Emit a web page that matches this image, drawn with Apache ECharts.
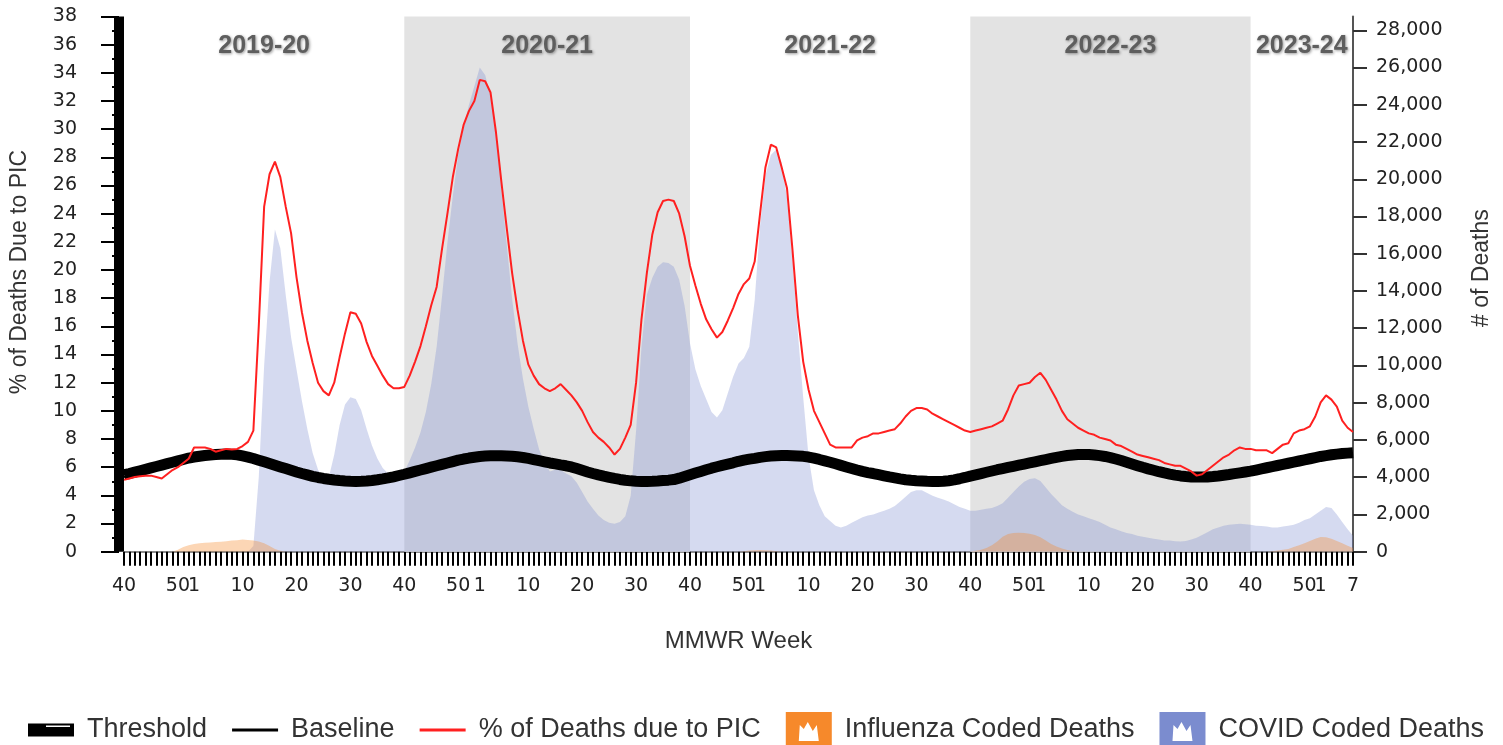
<!DOCTYPE html>
<html><head><meta charset="utf-8">
<script src="https://cdn.jsdelivr.net/npm/echarts@6/dist/echarts.min.js"></script>
<style>html,body{margin:0;padding:0;background:#fff}#c{width:1503px;height:745px}</style>
</head><body><div id="c"></div>
<script>
// MMWR week ranges covered: [year, firstWeek, lastWeek]
const weekRanges = [[2019,40,52],[2020,1,53],[2021,1,52],[2022,1,52],[2023,1,52],[2024,1,7]];
// week numbers that get a tick label
const labelWeeks = [40,50,1,10,20,30];

const seasonNames  = ['2019-20','2020-21','2021-22','2022-23','2023-24'];
const seasonStarts = ['2019-40','2020-40','2021-40','2022-40','2023-40'];
const seasonEnds   = ['2020-40','2021-40','2022-40','2023-40','2024-07'];
const seasonShaded = [false,true,false,true,false];

// % of deaths due to PIC (left axis)
const pic = [
5.1,5.2,5.3,5.35,5.4,5.4,5.3,5.2,5.5,5.8,
6.0,6.3,6.6,7.4,7.4,7.4,7.3,7.1,7.2,7.3,
7.25,7.3,7.5,7.8,8.6,16.0,24.5,26.8,27.7,26.6,
24.5,22.6,19.5,17.0,15.0,13.4,12.0,11.4,11.1,12.0,
13.8,15.5,17.0,16.9,16.2,14.9,13.9,13.2,12.5,11.9,
11.6,11.6,11.7,12.5,13.5,14.6,16.0,17.5,18.8,21.5,
24.0,26.6,28.6,30.3,31.3,32.0,33.5,33.4,32.6,29.8,
26.3,23.0,19.8,17.2,15.0,13.3,12.5,11.9,11.6,11.4,
11.6,11.9,11.5,11.1,10.6,10.0,9.2,8.5,8.1,7.8,
7.4,6.9,7.3,8.1,9.0,12.0,16.5,19.8,22.5,24.1,
24.9,25.0,24.9,24.0,22.4,20.3,18.9,17.6,16.5,15.8,
15.2,15.6,16.4,17.3,18.3,19.0,19.4,20.6,24.0,27.3,
28.9,28.7,27.3,25.8,21.5,16.8,13.5,11.5,10.0,9.2,
8.4,7.6,7.4,7.4,7.4,7.4,7.9,8.1,8.2,8.4,
8.4,8.5,8.6,8.7,9.1,9.6,10.0,10.2,10.2,10.1,
9.8,9.6,9.4,9.2,9.0,8.8,8.6,8.5,8.6,8.7,
8.8,8.9,9.1,9.3,10.1,11.1,11.8,11.9,12.0,12.4,
12.7,12.2,11.5,10.8,10.0,9.4,9.1,8.8,8.6,8.4,
8.3,8.1,8.0,7.9,7.6,7.5,7.3,7.1,6.9,6.8,
6.7,6.6,6.5,6.3,6.2,6.1,6.1,5.9,5.7,5.4,
5.5,5.8,6.1,6.4,6.7,6.9,7.2,7.4,7.3,7.3,
7.2,7.2,7.2,7.0,7.3,7.6,7.7,8.4,8.6,8.7,
8.9,9.6,10.6,11.1,10.8,10.3,9.3,8.8,8.5
];

// threshold (left axis)
const threshold = [
5.47,5.55,5.65,5.75,5.85,5.95,6.05,6.15,6.25,6.35,
6.45,6.55,6.65,6.72,6.78,6.83,6.87,6.9,6.92,6.93,
6.92,6.88,6.8,6.72,6.62,6.5,6.38,6.26,6.14,6.02,
5.9,5.78,5.66,5.55,5.45,5.35,5.27,5.2,5.14,5.09,
5.05,5.02,5.0,4.99,5.0,5.02,5.06,5.11,5.17,5.24,
5.32,5.41,5.5,5.6,5.7,5.8,5.9,6.0,6.1,6.2,
6.3,6.4,6.5,6.58,6.65,6.71,6.76,6.79,6.81,6.82,
6.81,6.8,6.78,6.74,6.69,6.62,6.54,6.46,6.38,6.3,
6.23,6.16,6.1,6.02,5.9,5.78,5.66,5.55,5.45,5.36,
5.28,5.2,5.13,5.07,5.03,5.0,4.99,4.99,5.0,5.02,
5.05,5.08,5.12,5.22,5.34,5.46,5.58,5.7,5.82,5.93,
6.03,6.13,6.22,6.31,6.42,6.5,6.57,6.63,6.7,6.75,
6.79,6.82,6.83,6.83,6.82,6.8,6.77,6.72,6.64,6.55,
6.45,6.35,6.24,6.13,6.02,5.91,5.8,5.7,5.62,5.55,
5.47,5.39,5.31,5.24,5.17,5.11,5.07,5.04,5.02,5.0,
4.99,4.99,5.0,5.04,5.1,5.18,5.27,5.37,5.46,5.55,
5.64,5.73,5.82,5.9,5.98,6.06,6.14,6.22,6.3,6.38,
6.46,6.54,6.62,6.7,6.77,6.83,6.87,6.9,6.91,6.9,
6.87,6.82,6.76,6.68,6.58,6.47,6.35,6.23,6.11,5.99,
5.88,5.78,5.68,5.59,5.51,5.44,5.38,5.34,5.31,5.3,
5.3,5.31,5.34,5.38,5.43,5.48,5.54,5.6,5.66,5.72,
5.8,5.88,5.96,6.04,6.12,6.2,6.28,6.36,6.44,6.52,
6.6,6.68,6.76,6.82,6.88,6.93,6.97,7.0,7.03
];

// baseline (left axis)
const baseline = [
5.3,5.4,5.5,5.6,5.7,5.8,5.9,6.0,6.1,6.2,
6.3,6.4,6.5,6.5,6.6,6.6,6.7,6.7,6.7,6.7,
6.7,6.7,6.6,6.5,6.4,6.3,6.2,6.1,5.9,5.8,
5.7,5.6,5.5,5.4,5.3,5.2,5.1,5.0,4.9,4.9,
4.9,4.8,4.8,4.8,4.8,4.8,4.9,4.9,5.0,5.0,
5.1,5.2,5.3,5.4,5.5,5.6,5.7,5.8,5.9,6.0,
6.1,6.2,6.3,6.4,6.5,6.5,6.6,6.6,6.6,6.6,
6.6,6.6,6.6,6.5,6.5,6.4,6.3,6.3,6.2,6.1,
6.0,6.0,5.9,5.8,5.7,5.6,5.5,5.4,5.3,5.2,
5.1,5.0,4.9,4.9,4.8,4.8,4.8,4.8,4.8,4.8,
4.9,4.9,4.9,5.0,5.1,5.3,5.4,5.5,5.6,5.7,
5.8,5.9,6.0,6.1,6.2,6.3,6.4,6.4,6.5,6.6,
6.6,6.6,6.6,6.6,6.6,6.6,6.6,6.5,6.4,6.4,
6.3,6.2,6.0,5.9,5.8,5.7,5.6,5.5,5.4,5.4,
5.3,5.2,5.1,5.0,5.0,4.9,4.9,4.8,4.8,4.8,
4.8,4.8,4.8,4.8,4.9,5.0,5.1,5.2,5.3,5.4,
5.4,5.5,5.6,5.7,5.8,5.9,5.9,6.0,6.1,6.2,
6.3,6.3,6.4,6.5,6.6,6.6,6.7,6.7,6.7,6.7,
6.7,6.6,6.6,6.5,6.4,6.3,6.2,6.0,5.9,5.8,
5.7,5.6,5.5,5.4,5.3,5.2,5.2,5.1,5.1,5.1,
5.1,5.1,5.1,5.2,5.2,5.3,5.3,5.4,5.5,5.5,
5.6,5.7,5.8,5.8,5.9,6.0,6.1,6.2,6.2,6.3,
6.4,6.5,6.6,6.6,6.7,6.7,6.8,6.8,6.8
];

// influenza coded deaths (right axis)
const flu = [
0,0,0,0,0,0,0,0,0,0,
100,250,350,420,460,480,500,520,540,560,
600,620,650,630,600,550,450,300,150,50,
0,0,0,0,0,0,0,0,0,0,
0,0,0,0,0,0,0,0,0,0,
0,0,0,0,0,0,0,0,0,0,
0,0,0,0,0,0,0,0,0,0,
0,0,0,0,0,0,0,0,0,0,
0,0,0,0,0,0,0,0,0,0,
0,0,0,0,0,0,0,0,0,0,
0,0,0,0,0,0,0,0,0,0,
0,0,0,0,0,30,60,80,90,80,
60,30,0,0,0,0,0,0,0,0,
0,0,0,0,0,0,0,0,0,0,
0,0,0,0,0,0,0,0,0,0,
0,0,0,0,0,0,0,0,50,100,
200,350,550,800,950,1000,1020,1000,960,900,
780,600,420,280,170,90,40,0,0,0,
0,0,0,0,0,0,0,0,0,0,
0,0,0,0,0,0,0,0,0,0,
0,0,0,0,0,0,0,0,0,0,
0,0,0,30,60,100,150,250,350,450,
580,700,790,780,700,580,450,320,200
];

// COVID coded deaths (right axis)
const covid = [
0,0,0,0,0,0,0,0,0,0,
0,0,0,0,0,0,0,0,0,0,
0,0,0,0,300,4000,10000,14500,17300,16300,
13800,11500,9800,8100,6600,5300,4400,3900,4000,5200,
6800,7900,8300,8200,7600,6600,5700,5000,4500,4200,
4100,4100,4300,4900,5600,6400,7500,9000,11000,13700,
16600,19100,21300,22800,24000,25000,26000,25600,24500,22600,
19500,16500,13600,11200,9300,7800,6600,5500,4800,4300,
4400,4400,4200,4050,3700,3200,2700,2300,1950,1700,
1550,1500,1600,1900,3000,6500,11000,13800,14700,15300,
15550,15500,15300,14600,13200,11200,9800,8900,8200,7500,
7200,7600,8500,9400,10100,10400,11000,13500,17500,20200,
21300,21600,20900,19000,15800,11800,8300,5100,3300,2500,
1900,1650,1400,1300,1400,1550,1700,1850,1950,2000,
2100,2200,2300,2450,2700,2950,3200,3300,3300,3150,
3000,2900,2800,2700,2550,2400,2300,2200,2200,2250,
2300,2350,2450,2600,2900,3200,3500,3750,3900,3950,
3800,3450,3100,2800,2500,2300,2150,2000,1900,1800,
1700,1600,1450,1300,1200,1100,1000,950,850,800,
750,700,650,600,600,560,550,570,650,750,
900,1050,1200,1300,1400,1450,1480,1500,1480,1450,
1400,1380,1350,1300,1300,1350,1400,1450,1550,1700,
1800,2000,2200,2400,2350,2000,1600,1200,850
];

// build category list
const categories = [];
weekRanges.forEach(([y, a, b]) => { for (let w = a; w <= b; w++) categories.push(y + '-' + String(w).padStart(2, '0')); });
const lastIdx = categories.length - 1;
const weekOf = v => parseInt(v.split('-')[1], 10);

const FONT = 'Liberation Sans, Arial, sans-serif';
const TICKFONT = 'DejaVu Sans, Verdana, sans-serif';

const seasonAreas = seasonNames.map((n, k) => [
  { name: n, xAxis: seasonStarts[k], itemStyle: { color: seasonShaded[k] ? '#e3e3e3' : 'rgba(0,0,0,0)' } },
  { xAxis: seasonEnds[k] }
]);

const boxIcon = 'path://M0,0H46V36H0Z M13,29H33L31,13L27,19L22,10L18,17L14,13Z';

const chart = echarts.init(document.getElementById('c'), null, { renderer: 'canvas' });
chart.setOption({
  animation: false,
  textStyle: { fontFamily: FONT },
  grid: { left: 123, right: 150, top: 16.5, bottom: 193.3, containLabel: false },
  legend: {
    left: 23, top: 707, itemWidth: 46, itemHeight: 36, itemGap: 25,
    itemStyle: { borderWidth: 0 },
    textStyle: { fontFamily: FONT, fontSize: 27, color: '#333', padding: [2, 0, 0, 8] },
    data: [
      { name: 'Threshold', icon: 'path://M0,0H46V13H0Z M18,2V3.5H42V2Z' },
      { name: 'Baseline', icon: 'path://M0,0H46V3H0Z' },
      { name: '% of Deaths due to PIC', icon: 'path://M0,0H46V3H0Z' },
      { name: 'Influenza Coded Deaths', icon: boxIcon },
      { name: 'COVID Coded Deaths', icon: boxIcon }
    ]
  },
  xAxis: {
    type: 'category', data: categories, boundaryGap: false,
    name: 'MMWR Week', nameLocation: 'middle', nameGap: 78,
    nameTextStyle: { fontFamily: FONT, fontSize: 24, color: '#333' },
    axisLine: { show: true, lineStyle: { color: '#666', width: 1.5 } },
    axisTick: { show: true, interval: 0, length: 14, lineStyle: { color: '#000', width: 2 } },
    axisLabel: {
      margin: 25, fontFamily: TICKFONT, fontSize: 19, color: '#222',
      interval: (i, v) => i === lastIdx || labelWeeks.indexOf(weekOf(v)) >= 0,
      formatter: v => String(weekOf(v))
    },
    splitLine: { show: false }
  },
  yAxis: [
    {
      type: 'value', min: 0, max: 38, interval: 2, position: 'left', offset: 5,
      name: '% of Deaths Due to PIC', nameLocation: 'middle', nameGap: 88, nameRotate: 90,
      nameTextStyle: { fontFamily: FONT, fontSize: 23, color: '#333', padding: [0, 0, 0, 24] },
      axisLine: { show: true, lineStyle: { color: '#000', width: 10, cap: 'butt' } },
      axisTick: { show: true, length: 18, lineStyle: { color: '#000', width: 2 } },
      minorTick: { show: true, splitNumber: 2, length: 7, lineStyle: { color: '#000', width: 2 } },
      axisLabel: { margin: 42, fontFamily: TICKFONT, fontSize: 19, color: '#222' },
      splitLine: { show: false }
    },
    {
      type: 'value', min: 0, max: 28740, interval: 2000, position: 'right',
      name: '# of Deaths', nameLocation: 'middle', nameGap: 117, nameRotate: 90,
      nameTextStyle: { fontFamily: FONT, fontSize: 23, color: '#333', padding: [0, 0, 0, 32] },
      axisLine: { show: true, lineStyle: { color: '#555', width: 2 } },
      axisTick: { show: true, length: 14, lineStyle: { color: '#333', width: 2 } },
      axisLabel: {
        margin: 23, fontFamily: TICKFONT, fontSize: 19, color: '#222', showMaxLabel: false,
        formatter: v => String(v).replace(/\B(?=(\d{3})+(?!\d))/g, ',')
      },
      splitLine: { show: false }
    }
  ],
  series: [
    {
      name: 'seasons', type: 'line', data: [], silent: true,
      markArea: {
        silent: true,
        label: {
          show: true, position: 'insideTop', distance: 17,
          fontFamily: FONT, fontSize: 25, fontWeight: 'bold', color: '#5e5e5e',
          textShadowColor: 'rgba(0,0,0,0.4)', textShadowBlur: 3, textShadowOffsetX: 1, textShadowOffsetY: 1
        },
        data: seasonAreas
      }
    },
    {
      name: 'COVID Coded Deaths', type: 'line', yAxisIndex: 1, data: covid, z: 2,
      symbol: 'none', color: '#7b8ccf', itemStyle: { color: '#7b8ccf' },
      lineStyle: { width: 0 }, areaStyle: { color: 'rgba(123,140,207,0.32)', opacity: 1 }
    },
    {
      name: 'Influenza Coded Deaths', type: 'line', yAxisIndex: 1, data: flu, z: 3,
      symbol: 'none', color: '#f6892b', itemStyle: { color: '#f6892b' },
      lineStyle: { width: 0 }, areaStyle: { color: 'rgba(247,137,43,0.35)', opacity: 1 }
    },
    {
      name: 'Threshold', type: 'line', data: threshold, z: 4, symbol: 'none',
      color: '#000', itemStyle: { color: '#000' }, lineStyle: { color: '#000', width: 11 }
    },
    {
      name: 'Baseline', type: 'line', data: baseline, z: 5, symbol: 'none',
      color: '#000', itemStyle: { color: '#000' }, lineStyle: { color: '#000', width: 2 }
    },
    {
      name: '% of Deaths due to PIC', type: 'line', data: pic, z: 6, symbol: 'none',
      color: '#ff2020', itemStyle: { color: '#ff2020' }, lineStyle: { color: '#ff2020', width: 2 }
    }
  ]
});
</script></body></html>
